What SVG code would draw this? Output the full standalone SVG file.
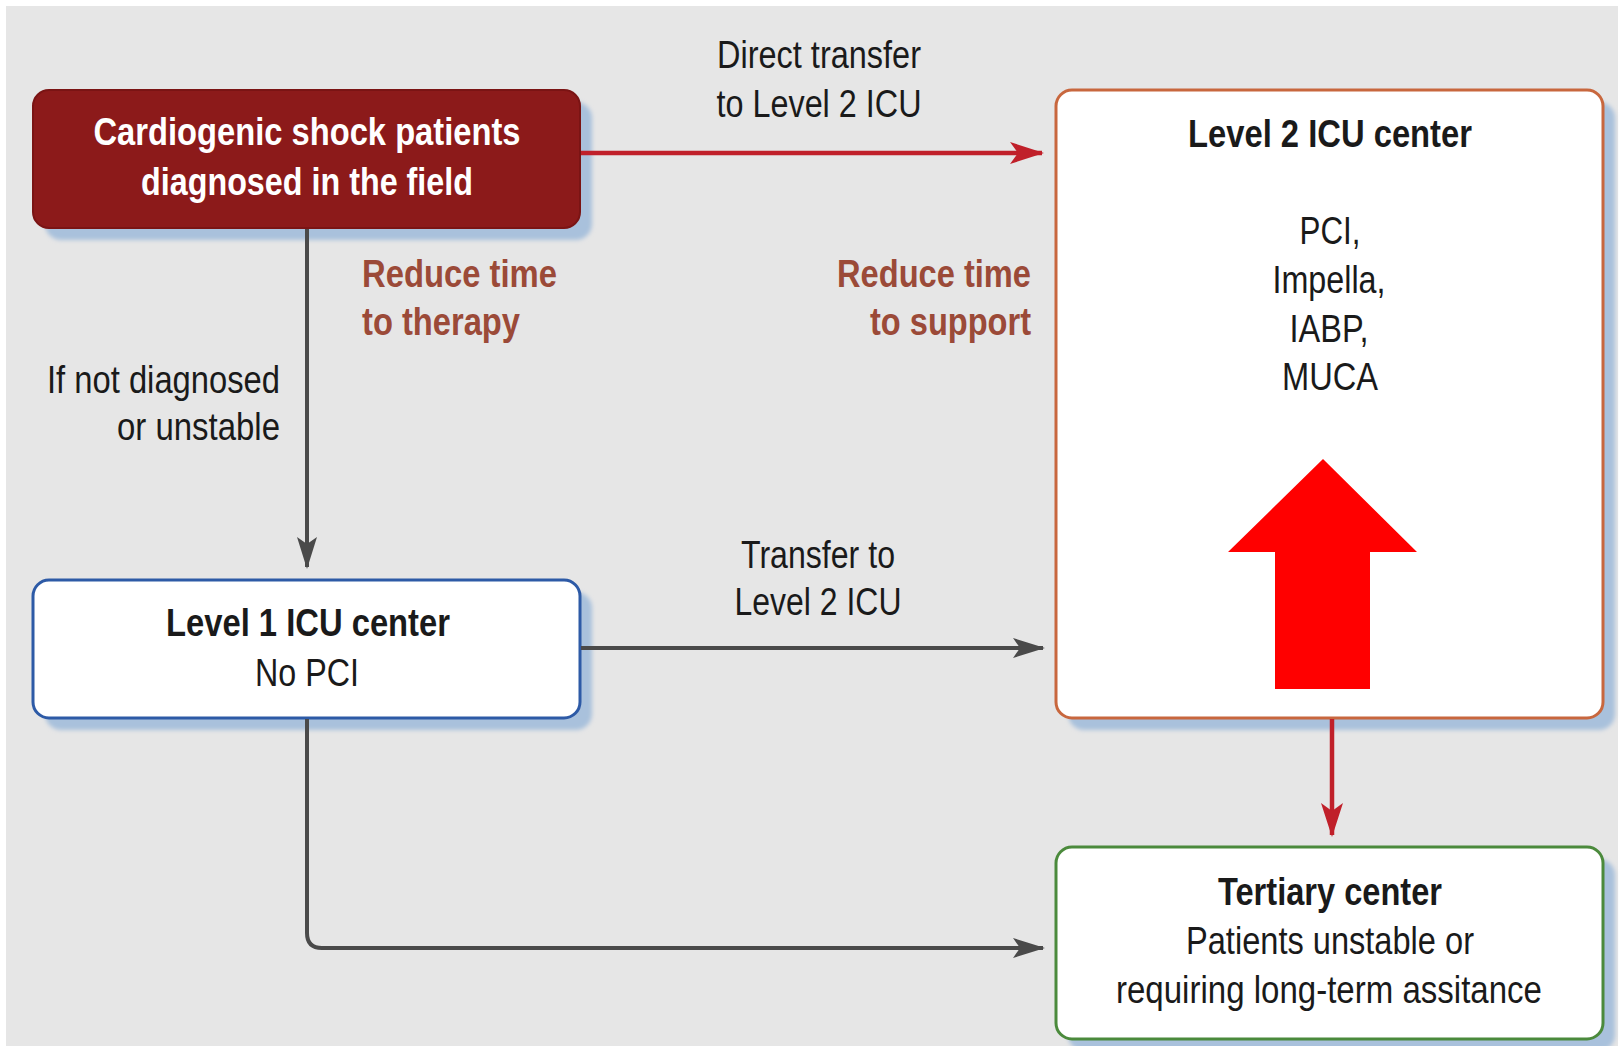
<svg xmlns="http://www.w3.org/2000/svg" width="1624" height="1046" viewBox="0 0 1624 1046">
<style>
text{font-family:"Liberation Sans",Arial,sans-serif;font-size:38px;fill:#1a1a1a}
.b{font-weight:bold}
.w{fill:#ffffff;font-weight:bold}
.br{fill:#9b4a38;font-weight:bold}
.shadow{fill:#a9c1dc}
.gl{fill:none;stroke:#4a4a4a;stroke-width:4}
.rl{fill:none;stroke:#c0202a;stroke-width:4.5}
</style>
<defs>
<filter id="blur" x="-5%" y="-5%" width="110%" height="110%"><feGaussianBlur stdDeviation="2"/></filter>
<marker id="ag" viewBox="0 0 32 22" refX="30" refY="11" markerUnits="userSpaceOnUse" markerWidth="32" markerHeight="22" orient="auto"><path d="M0,1 L32,11 L0,21 L7,11 Z" fill="#4a4a4a"/></marker>
<marker id="ar" viewBox="0 0 34 24" refX="32" refY="12" markerUnits="userSpaceOnUse" markerWidth="34" markerHeight="24" orient="auto"><path d="M0,1 L34,12 L0,23 L8,12 Z" fill="#c0202a"/></marker>
</defs>
<rect x="6" y="6" width="1612" height="1040" fill="#e6e6e6"/>

<g id="node-cardiogenic">
<rect class="shadow" x="45" y="102" width="547" height="138" rx="16" filter="url(#blur)"/>
<rect x="33" y="90" width="547" height="138" rx="16" fill="#8c1a1a" stroke="#7a1414" stroke-width="2"/>
<text class="w" x="307" y="145" text-anchor="middle" textLength="427" lengthAdjust="spacingAndGlyphs">Cardiogenic shock patients</text>
<text class="w" x="307" y="195" text-anchor="middle" textLength="332" lengthAdjust="spacingAndGlyphs">diagnosed in the field</text>
</g>

<g id="node-level1">
<rect class="shadow" x="45" y="592" width="547" height="138" rx="16" filter="url(#blur)"/>
<rect x="33" y="580" width="547" height="138" rx="16" fill="#ffffff" stroke="#2d5aa6" stroke-width="3"/>
<text class="b" x="308" y="636" text-anchor="middle" textLength="284" lengthAdjust="spacingAndGlyphs">Level 1 ICU center</text>
<text x="307" y="686" text-anchor="middle" textLength="104" lengthAdjust="spacingAndGlyphs">No PCI</text>
</g>

<g id="node-level2">
<rect class="shadow" x="1068" y="102" width="547" height="628" rx="16" filter="url(#blur)"/>
<rect x="1056" y="90" width="547" height="628" rx="16" fill="#ffffff" stroke="#c8673e" stroke-width="3"/>
<text class="b" x="1330" y="147" text-anchor="middle" textLength="284" lengthAdjust="spacingAndGlyphs">Level 2 ICU center</text>
<text x="1330" y="244" text-anchor="middle" textLength="61" lengthAdjust="spacingAndGlyphs">PCI,</text>
<text x="1329" y="293" text-anchor="middle" textLength="113" lengthAdjust="spacingAndGlyphs">Impella,</text>
<text x="1329" y="342" text-anchor="middle" textLength="79" lengthAdjust="spacingAndGlyphs">IABP,</text>
<text x="1330" y="390" text-anchor="middle" textLength="96" lengthAdjust="spacingAndGlyphs">MUCA</text>
<path d="M1323,459 L1417,552 L1370,552 L1370,689 L1275,689 L1275,552 L1228,552 Z" fill="#ff0000"/>
</g>

<g id="node-tertiary">
<rect class="shadow" x="1068" y="859" width="547" height="192" rx="16" filter="url(#blur)"/>
<rect x="1056" y="847" width="547" height="192" rx="16" fill="#ffffff" stroke="#4b8a3c" stroke-width="3"/>
<text class="b" x="1330" y="905" text-anchor="middle" textLength="224" lengthAdjust="spacingAndGlyphs">Tertiary center</text>
<text x="1330" y="954" text-anchor="middle" textLength="288" lengthAdjust="spacingAndGlyphs">Patients unstable or</text>
<text x="1329" y="1003" text-anchor="middle" textLength="426" lengthAdjust="spacingAndGlyphs">requiring long-term assitance</text>
</g>

<g id="labels">
<text x="819" y="68" text-anchor="middle" textLength="204" lengthAdjust="spacingAndGlyphs">Direct transfer</text>
<text x="819" y="117" text-anchor="middle" textLength="205" lengthAdjust="spacingAndGlyphs">to Level 2 ICU</text>
<text class="br" x="362" y="287" textLength="195" lengthAdjust="spacingAndGlyphs">Reduce time</text>
<text class="br" x="362" y="335" textLength="158" lengthAdjust="spacingAndGlyphs">to therapy</text>
<text class="br" x="1031" y="287" text-anchor="end" textLength="194" lengthAdjust="spacingAndGlyphs">Reduce time</text>
<text class="br" x="1031" y="335" text-anchor="end" textLength="161" lengthAdjust="spacingAndGlyphs">to support</text>
<text x="280" y="393" text-anchor="end" textLength="233" lengthAdjust="spacingAndGlyphs">If not diagnosed</text>
<text x="280" y="440" text-anchor="end" textLength="163" lengthAdjust="spacingAndGlyphs">or unstable</text>
<text x="818" y="568" text-anchor="middle" textLength="154" lengthAdjust="spacingAndGlyphs">Transfer to</text>
<text x="818" y="615" text-anchor="middle" textLength="167" lengthAdjust="spacingAndGlyphs">Level 2 ICU</text>
</g>

<g id="connectors">
<path class="rl" d="M581,153 H1042" marker-end="url(#ar)"/>
<path class="gl" d="M307,229 V567" marker-end="url(#ag)"/>
<path class="gl" d="M581,648 H1043" marker-end="url(#ag)"/>
<path class="gl" d="M307,719 V933 Q307,948 322,948 H1043" marker-end="url(#ag)"/>
<path class="rl" d="M1332,719 V835" marker-end="url(#ar)"/>
</g>
</svg>
